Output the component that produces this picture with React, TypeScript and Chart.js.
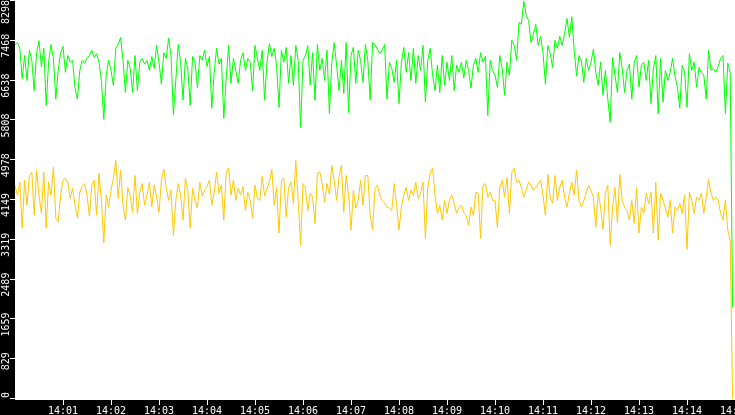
import React, { useEffect, useRef } from 'react';
import { Chart, registerables } from 'chart.js';

Chart.register(...registerables);

// seconds between samples, starting at 14:00:00
const sampleSeconds = 3;

const greenValues = [
  7380, 7420, 7300, 6670, 7150, 6630, 7260, 7050, 6420, 7210,
  7460, 6920, 7300, 6110, 7010, 7380, 7090, 6240, 6840, 7210,
  7340, 6800, 7150, 7010, 7050, 6470, 6240, 6840, 7050, 6990,
  7090, 7150, 7260, 7110, 7190, 7010, 6630, 5820, 6740, 7050,
  6840, 6530, 7300, 7380, 7530, 7050, 6380, 7050, 6880, 6380,
  7150, 6420, 7010, 7090, 6970, 7050, 6840, 7130, 6880, 7360,
  7010, 6550, 7210, 7090, 7510, 7150, 5920, 6630, 7380, 7010,
  6220, 7090, 6880, 6110, 7130, 7010, 6480, 7150, 7050, 7260,
  6920, 7130, 6050, 6800, 7300, 6970, 7090, 5840, 6670, 7360,
  6570, 7090, 6840, 6570, 7050, 7210, 6840, 7090, 7010, 6420,
  7360, 7090, 6840, 7260, 6220, 7010, 7400, 7130, 7300, 6950,
  6070, 7260, 7010, 7320, 6570, 7150, 6530, 7360, 7050, 5650,
  7050, 7150, 7360, 6530, 7210, 6220, 7380, 6840, 7090, 6630,
  7260, 5940, 7010, 7420, 6950, 6420, 7050, 6360, 7420, 5960,
  7150, 7320, 6570, 7260, 7050, 6590, 7380, 7050, 6220, 7420,
  7380, 7280, 7190, 7260, 7380, 6240, 7010, 6880, 6590, 7050,
  6150, 7010, 7320, 6800, 7210, 6630, 7300, 6570, 7150, 6840,
  7360, 6180, 7050, 7300, 6740, 6420, 6950, 6380, 7150, 6530,
  7010, 6630, 7150, 6420, 6950, 6800, 7010, 6680, 7050, 6840,
  6470, 6950, 7090, 6800, 7210, 7010, 7130, 5900, 7050, 6840,
  6740, 6490, 7150, 6880, 6320, 7010, 6740, 7470, 7360, 7050,
  7840, 7800, 8280, 7990, 7880, 7420, 7590, 7800, 7360, 7550,
  7210, 6550, 7360, 7190, 6900, 7470, 7300, 7550, 7360, 7610,
  7920, 7530, 7960, 7260, 6720, 7150, 7050, 6590, 7090, 6840,
  7010, 7280, 6800, 6530, 7010, 6320, 6840, 6240, 5760, 7110,
  6740, 6380, 7210, 6880, 6380, 6840, 6970, 6240, 7010, 7150,
  6490, 6950, 7010, 6630, 7050, 6150, 6880, 7150, 5940, 7090,
  6180, 6840, 6630, 6800, 7090, 6720, 6490, 6050, 6950, 6800,
  6070, 7190, 6840, 7010, 6490, 6900, 6800, 6740, 6240, 7260,
  6840, 6880, 6800, 6920, 7090, 7150, 5940, 6990, 6800, 1900,
];

const yellowValues = [
  4445, 4237, 4510, 3550, 4550, 4030, 4650, 4720, 3820, 4760,
  4240, 3860, 4720, 3550, 4510, 4240, 4820, 3760, 3680, 4240,
  4550, 4590, 4510, 4170, 4380, 4030, 3760, 4300, 4420, 4480,
  4240, 3800, 4450, 4550, 3820, 4700, 4130, 3250, 4240, 3990,
  4340, 4590, 4960, 4170, 4760, 4030, 3720, 4400, 4240, 3880,
  4650, 3860, 4300, 4480, 4030, 4240, 4510, 3990, 4450, 4200,
  3880, 4550, 4780, 4400, 4130, 4340, 3400, 4130, 4480, 4240,
  3720, 4590, 4340, 3550, 4380, 4130, 3970, 4510, 4220, 4340,
  4420, 4550, 4030, 4300, 4720, 4280, 4450, 3720, 4720, 4800,
  4240, 4550, 4130, 4380, 4240, 4420, 3920, 4300, 4130, 3760,
  4450, 4170, 4130, 4630, 4220, 4380, 4510, 4780, 4030, 4400,
  3450, 4550, 4590, 3780, 4400, 4510, 4070, 4960, 4130, 3190,
  4480, 4400, 3920, 4280, 4200, 3650, 4700, 4720, 4470, 4090,
  4480, 4260, 4860, 4550, 4130, 4610, 4860, 3880, 4650, 4240,
  3510, 4340, 3970, 4130, 4550, 4030, 4650, 4650, 3820, 3510,
  4380, 4450, 4240, 4130, 4070, 3990, 3970, 3920, 4480, 4030,
  3510, 3990, 4240, 4400, 4130, 4340, 4240, 4510, 4170, 4280,
  4510, 3340, 4400, 4700, 4800, 4240, 3860, 4030, 3720, 4130,
  3860, 4130, 4240, 4070, 3860, 3990, 4030, 3880, 3820, 3610,
  3990, 3820, 4300, 4280, 3340, 4450, 4480, 4200, 4300, 4130,
  4130, 3570, 4400, 4550, 4200, 4610, 3860, 4720, 4800, 4510,
  4550, 4400, 4200, 4340, 4510, 4450, 4340, 4400, 4480, 4550,
  4240, 3820, 4670, 4200, 4070, 4650, 4130, 4400, 4550, 4200,
  3990, 4280, 4510, 4240, 4760, 4130, 3990, 4130, 4280, 4450,
  4340, 4200, 3570, 4300, 3990, 3530, 4280, 4450, 3190, 3990,
  4400, 3670, 4670, 4130, 3990, 3920, 3720, 4130, 3650, 4400,
  3450, 3990, 3860, 4280, 4070, 4300, 3450, 4510, 3300, 4280,
  4130, 3970, 3780, 4130, 3450, 3990, 3920, 4070, 3860, 4240,
  3110, 4300, 4130, 3860, 4200, 4130, 4280, 3860, 4200, 4570,
  4280, 4130, 4200, 4130, 3860, 3720, 4130, 3510, 3300, 0,
];

// x axis: seconds after 14:00:00
const xTickSeconds = [60, 120, 180, 240, 300, 360, 420, 480, 540, 600, 660, 720, 780, 840, 900];
const xTickLabels = ['14:01', '14:02', '14:03', '14:04', '14:05', '14:06', '14:07', '14:08', '14:09', '14:10', '14:11', '14:12', '14:13', '14:14', '14:15'];

const yTickValues = [0, 829.8, 1659.6, 2489.4, 3319.2, 4149, 4978.8, 5808.6, 6638.4, 7468.2, 8298];
const yTickLabels = ['0', '829', '1659', '2489', '3319', '4149', '4978', '5808', '6638', '7468', '8298'];

const W = 735;
const H = 415;
const FONT = { family: 'DejaVu Sans Mono', size: 10 };

export default function App() {
  const ref = useRef<HTMLCanvasElement | null>(null);

  useEffect(() => {
    if (!ref.current) return;
    const bg = {
      id: 'bg',
      beforeDraw(chart: any) {
        const { ctx, chartArea: a } = chart;
        ctx.save();
        ctx.fillStyle = '#000';
        ctx.fillRect(0, 0, chart.width, chart.height);
        ctx.fillStyle = '#fff';
        ctx.fillRect(a.left, a.top, a.right - a.left, a.bottom - a.top);
        ctx.restore();
      },
    };
    const chart = new Chart(ref.current, {
      type: 'line',
      data: {
        datasets: [
          {
            data: greenValues.map((v, i) => ({ x: i * sampleSeconds, y: v })),
            borderColor: '#00ff00',
            borderWidth: 1,
            pointRadius: 0,
            tension: 0,
            fill: false,
          },
          {
            data: yellowValues.map((v, i) => ({ x: i * sampleSeconds, y: v })),
            borderColor: '#ffc800',
            borderWidth: 1,
            pointRadius: 0,
            tension: 0,
            fill: false,
          },
        ],
      },
      options: {
        animation: false,
        responsive: false,
        devicePixelRatio: 1,
        events: [],
        layout: { padding: 0 },
        plugins: { legend: { display: false }, tooltip: { enabled: false } },
        scales: {
          x: {
            type: 'linear',
            position: 'bottom',
            min: 0,
            max: 900,
            afterBuildTicks: (s: any) => {
              s.ticks = xTickSeconds.map((v) => ({ value: v }));
            },
            afterFit: (s: any) => {
              s.height = 15;
              s.paddingLeft = 0;
              s.paddingRight = 0;
            },
            grid: { drawOnChartArea: false, drawTicks: true, tickLength: 5, tickColor: '#fff', tickWidth: 1 },
            border: { display: false },
            ticks: {
              color: '#fff',
              font: FONT,
              padding: 0,
              autoSkip: false,
              minRotation: 0,
              maxRotation: 0,
              callback: (_v: any, i: number) => xTickLabels[i],
            },
          },
          y: {
            type: 'linear',
            position: 'left',
            min: -31,
            max: 8308,
            afterBuildTicks: (s: any) => {
              s.ticks = yTickValues.map((v) => ({ value: v }));
            },
            afterFit: (s: any) => {
              s.width = 15;
              s.paddingTop = 0;
              s.paddingBottom = 0;
            },
            grid: { drawOnChartArea: false, drawTicks: true, tickLength: 5, tickColor: '#fff', tickWidth: 1 },
            border: { display: false },
            ticks: {
              color: '#fff',
              font: FONT,
              padding: 4,
              autoSkip: false,
              minRotation: 90,
              maxRotation: 90,
              labelOffset: -6.5,
              crossAlign: 'near',
              callback: (_v: any, i: number) =>
                i === yTickLabels.length - 1 ? yTickLabels[i] + ' ' : yTickLabels[i],
            },
          },
        },
      },
      plugins: [bg],
    } as any);
    return () => chart.destroy();
  }, []);

  return (
    <div style={{ position: 'fixed', left: 0, top: 0, width: W, height: H, overflow: 'hidden' }}>
      <canvas ref={ref} width={W} height={H} style={{ display: 'block', width: W, height: H }} />
    </div>
  );
}
